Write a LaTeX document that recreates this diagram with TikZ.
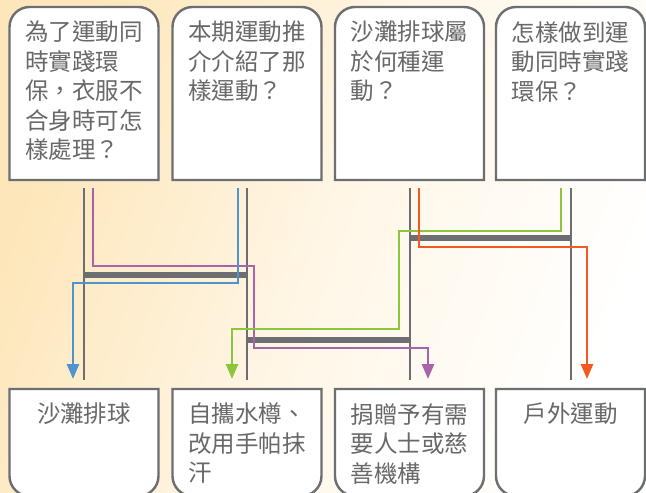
\documentclass[tikz,border=0pt]{standalone}
\usepackage{fontspec}
\newfontfamily\cjk{Noto Sans CJK TC}
\usetikzlibrary{arrows.meta}
\definecolor{bgL}{HTML}{FDE6B9}
\definecolor{bgM}{HTML}{FFF6E6}
\definecolor{lineGray}{HTML}{6D6E71}
\definecolor{txtGray}{HTML}{686868}
\definecolor{cPurple}{HTML}{A864A8}
\definecolor{cBlue}{HTML}{4F94CD}
\definecolor{cGreen}{HTML}{8CC63F}
\definecolor{cOrange}{HTML}{F15A22}
\begin{document}
\begin{tikzpicture}[x=1pt,y=-1pt,
  boxnode/.style={minimum width=149pt, inner sep=0pt, outer sep=0pt, draw=none},
  qbox/.style={boxnode, minimum height=173pt},
  abox/.style={boxnode, minimum height=107pt},
  boxline/.style={draw=lineGray, line width=2.4pt, fill=white},
  txt/.style={font=\cjk\fontsize{23.5}{29.5}\selectfont, text=txtGray, align=left, inner sep=0pt, anchor=north},
  rail/.style={draw=lineGray, line width=2.8pt},
  rung/.style={draw=lineGray, line width=5.2pt},
  route/.style={line width=2.8pt, -{Triangle[length=15pt,width=12pt]}}
]
\useasboundingbox (0,0) rectangle (646,493);
\shade[left color=bgL, right color=white, middle color=bgM, shading angle=70] (0,0) rectangle (646,493);

% box nodes
\node[qbox] (q1) at (84,93.5) {};
\node[qbox] (q2) at (247,93.5) {};
\node[qbox] (q3) at (409.5,93.5) {};
\node[qbox] (q4) at (570.5,93.5) {};
\node[abox] (a1) at (84,442.5) {};
\node[abox] (a2) at (247,442.5) {};
\node[abox] (a3) at (409.5,442.5) {};
\node[abox] (a4) at (570.5,442.5) {};

% outlines
\foreach \b in {q1,q2,q3,q4}{
  \draw[boxline] (\b.south west) [rounded corners=20pt] -- (\b.north west) -- (\b.north east) [sharp corners] -- (\b.south east) -- cycle;
}
\foreach \b in {a1,a2,a3,a4}{
  \draw[boxline] (\b.north east) -- (\b.north west) [rounded corners=20pt] -- (\b.south west) -- (\b.south east) [sharp corners] -- cycle;
}

% texts
\node[txt] (t1) at ([shift={(0,14)}]q1.north) {為了運動同\\時實踐環\\保，衣服不\\合身時可怎\\樣處理？};
\node[txt] (t2) at ([shift={(0,14)}]q2.north) {本期運動推\\介介紹了那\\樣運動？};
\node[txt] (t3) at ([shift={(0,14)}]q3.north) {沙灘排球屬\\於何種運\\動？};
\node[txt] (t4) at ([shift={(0,14)}]q4.north) {怎樣做到運\\動同時實踐\\環保？};
\node[txt] (u1) at ([shift={(0,14)}]a1.north) {沙灘排球};
\node[txt] (u2) at ([shift={(0,14)}]a2.north) {自攜水樽、\\改用手帕抹\\汗};
\node[txt] (u3) at ([shift={(0,14)}]a3.north) {捐贈予有需\\要人士或慈\\善機構};
\node[txt] (u4) at ([shift={(0,14)}]a4.north) {戶外運動};

% rails
\coordinate (r1t) at (84,188);  \coordinate (r1b) at (84,380);
\coordinate (r2t) at (247,188); \coordinate (r2b) at (247,380);
\coordinate (r3t) at (410,188); \coordinate (r3b) at (410,380);
\coordinate (r4t) at (571,188); \coordinate (r4b) at (571,380);
\draw[rail] (r1t) -- (r1b);
\draw[rail] (r2t) -- (r2b);
\draw[rail] (r3t) -- (r3b);
\draw[rail] (r4t) -- (r4b);

% rungs
\draw[rung] (84,275) -- (247,275);
\draw[rung] (247,340) -- (410,340);
\draw[rung] (410,238) -- (571,238);

% routes
\draw[route, cPurple] ([shift={(9,8)}]q1.south) |- (254,266) |- (428,348) -- ([shift={(18.5,-10)}]a3.north);
\draw[route, cBlue] ([shift={(-9,8)}]q2.south) |- (73,283) -- ([shift={(-11,-10)}]a1.north);
\draw[route, cGreen] ([shift={(-9.5,8)}]q4.south) |- (399,231) |- (232,329) -- ([shift={(-15,-10)}]a2.north);
\draw[route, cOrange] ([shift={(9.5,8)}]q3.south) |- (587,247) -- ([shift={(16.5,-10)}]a4.north);
\end{tikzpicture}
\end{document}
